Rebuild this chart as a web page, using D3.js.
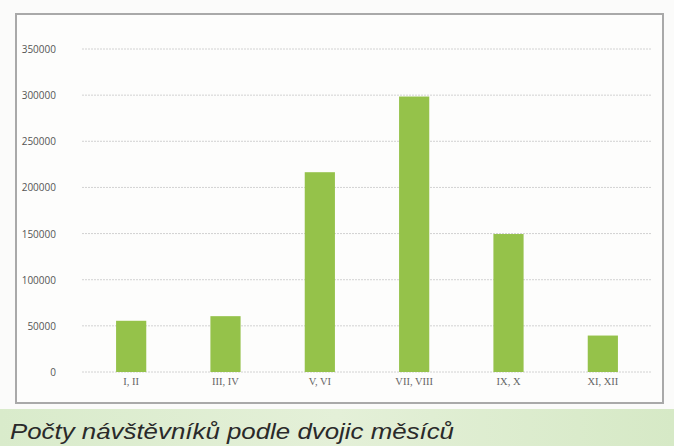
<!DOCTYPE html>
<html><head><meta charset="utf-8">
<script src="https://cdn.jsdelivr.net/npm/d3@7"></script>
<style>
html,body{margin:0;padding:0;background:#fbfbfa;}
svg{display:block;}
</style></head>
<body>
<svg id="chart" width="674" height="446"></svg>
<script>
const categories = ["I, II", "III, IV", "V, VI", "VII, VIII", "IX, X", "XI, XII"];
const visitors = [55500, 60500, 216500, 298500, 149500, 39500];
const yTicks = [0, 50000, 100000, 150000, 200000, 250000, 300000, 350000];
const caption = "Počty návštěvníků podle dvojic měsíců";

const svg = d3.select("#chart");
const W = 674, H = 446;

// caption band
const defs = svg.append("defs");
const grad = defs.append("linearGradient").attr("id","band").attr("x1",0).attr("x2",1).attr("y1",0).attr("y2",0);
grad.append("stop").attr("offset","0%").attr("stop-color","#d9ebcb");
grad.append("stop").attr("offset","50%").attr("stop-color","#e4f0d8");
grad.append("stop").attr("offset","100%").attr("stop-color","#d6e9c6");
svg.append("rect").attr("x",0).attr("y",409).attr("width",W).attr("height",H-409).attr("fill","url(#band)");

// chart frame
svg.append("rect").attr("x",16).attr("y",14).attr("width",647).attr("height",389)
  .attr("fill","#fdfdfc").attr("stroke","#a9a9a9").attr("stroke-width",2);

const x = d3.scaleBand().domain(categories).range([84, 650]).paddingInner(0.68).paddingOuter(0.34);
const y = d3.scaleLinear().domain([0, 350000]).range([372, 49]);

// gridlines
svg.append("g").selectAll("line").data(yTicks).join("line")
  .attr("x1",82).attr("x2",651)
  .attr("y1",d=>y(d)).attr("y2",d=>y(d))
  .attr("stroke","#d2d2d2").attr("stroke-width",1).attr("stroke-dasharray","2,1");

// y axis labels
const yAxis = d3.axisLeft(y).tickValues(yTicks).tickSize(0).tickPadding(0).tickFormat(d3.format("d"));
const gy = svg.append("g").attr("transform","translate(56,0)").call(yAxis);
gy.select(".domain").remove();
gy.selectAll("text").attr("font-family","'Open Sans', sans-serif").attr("font-size","10px").attr("fill","#555").attr("dy","0.35em");

// bars
svg.append("g").selectAll("rect").data(visitors).join("rect")
  .attr("x",(d,i)=>x(categories[i]))
  .attr("width",x.bandwidth())
  .attr("y",d=>y(d))
  .attr("height",d=>y(0)-y(d))
  .attr("fill","#95c24a");

// x axis labels
const xAxis = d3.axisBottom(x).tickSize(0).tickPadding(0);
const gx = svg.append("g").attr("transform","translate(0,381)").call(xAxis);
gx.select(".domain").remove();
gx.selectAll("text").attr("font-family","'Liberation Serif', serif").attr("font-size","10.5px").attr("fill","#666").attr("dy","0.35em");

// caption
svg.append("text").attr("x",10).attr("y",439)
  .attr("font-family","'Liberation Sans Narrow', 'Liberation Sans', Arial, sans-serif").attr("font-style","italic")
  .attr("font-size","22px").attr("fill","#2a2a2a")
  .attr("textLength",444).attr("lengthAdjust","spacingAndGlyphs")
  .text(caption);
</script>
</body></html>
